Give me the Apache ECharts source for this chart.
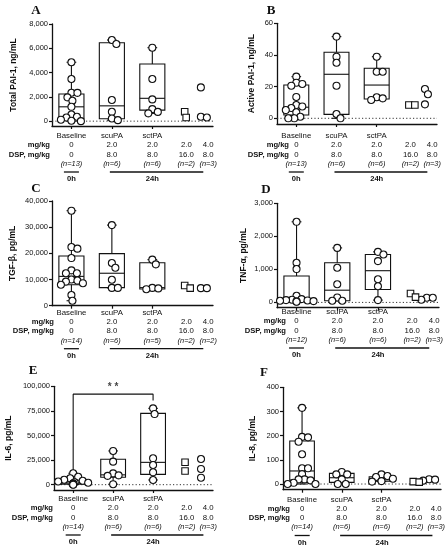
<!DOCTYPE html>
<html>
<head>
<meta charset="utf-8">
<script src="https://cdn.jsdelivr.net/npm/echarts@6/dist/echarts.min.js"></script>
<style>
  html, body { margin: 0; padding: 0; background: #fff; }
  #chart { width: 448px; height: 550px; }
</style>
</head>
<body>
<div id="chart"></div>
<script>
// ---- data ----
const categories = ["Baseline", "scuPA", "sctPA", "sctPA"];
const mgRow = ["0", "2.0", "2.0", "2.0", "4.0"];
const dspRow = ["0", "8.0", "8.0", "16.0", "8.0"];

// points: baseline, scuPA, sctPA, sctPA 2.0/16.0 (squares), sctPA 4.0/8.0 (circles)
const ptsA = [
  [4850, 3470, 2340, 2330, 1960, 1680, 1180, 550, 360, 300, 120, 30, 0],
  [6680, 6350, 1740, 770, 220, 80],
  [6050, 3470, 1790, 990, 760, 640],
  [770, 300],
  [2780, 360, 300]
];
const ptsB = [
  [26.3, 22.5, 21.7, 20.6, 13.5, 8.4, 7.5, 6.5, 5.2, 3.8, 1.0, 0, 0],
  [51.6, 38.9, 35.1, 20.6, 2.7, 0],
  [38.9, 29.4, 29.4, 13.3, 12.6, 11.6],
  [8.4, 8.4],
  [18.5, 15.2, 8.8]
];
const ptsC = [
  [36300, 22400, 21800, 18200, 13500, 12400, 12400, 10000, 9600, 9200, 8600, 8000, 4100, 1900],
  [30800, 16300, 14500, 9900, 6800, 6800],
  [17600, 15800, 6800, 6600, 6300],
  [7700, 6700],
  [6700, 6700]
];
const ptsD = [
  [2440, 1200, 1010, 200, 100, 80, 70, 60, 50, 40, 30, 20],
  [1650, 1050, 550, 150, 50, 50],
  [1530, 1450, 1250, 700, 490, 70],
  [270, 160],
  [140, 140, 80]
];
const ptsE = [
  [11600, 8000, 6500, 5000, 4000, 3200, 2500, 2000, 1500, 1000, 700, 400, 200, 0],
  [34300, 23400, 11500, 9500, 9000, 500],
  [77600, 71800, 26800, 20000, 12600, 4800],
  [22800, 13900],
  [26100, 16000, 7100]
];
const ptsF = [
  [315, 195, 193, 175, 123, 65, 65, 41, 19, 19, 15, 5, 0, 0],
  [50, 40, 40, 19, 0, 0],
  [40, 33, 29, 22, 12, 10],
  [10, 8],
  [20, 18, 14]
];

// box stats [min, q1, median, q3, max] for baseline, scuPA, sctPA
const boxA = [[0, 220, 1180, 2230, 4850], [80, 200, 1260, 6450, 6680], [640, 910, 1880, 4710, 6050]];
const boxB = [[0, 2.1, 7.0, 21.0, 26.3], [0, 2.5, 27.8, 41.7, 51.6], [11.6, 12.2, 21.0, 31.6, 38.9]];
const boxC = [[1900, 8000, 11200, 19000, 36300], [6800, 6900, 12400, 19900, 30800], [6300, 6400, 6900, 16400, 17600]];
const boxD = [[20, 40, 80, 800, 2440], [50, 50, 370, 1200, 1650], [70, 390, 960, 1450, 1530]];
const boxE = [[0, 600, 1750, 5400, 11600], [500, 7500, 10000, 25800, 34300], [4800, 10500, 22700, 72500, 77600]];
const boxF = [[0, 16, 54, 178, 315], [0, 7, 26, 44, 50], [10, 12, 21, 30, 40]];

const nA = [13, 6, 6, 2, 3];
const nB = [13, 6, 6, 2, 3];
const nC = [14, 6, 5, 2, 2];
const nD = [12, 6, 6, 2, 3];
const nE = [14, 6, 6, 2, 3];
const nF = [14, 6, 6, 2, 3];

const ticksA = [0, 2000, 4000, 6000, 8000];
const ticksB = [0, 20, 40, 60];
const ticksC = [0, 10000, 20000, 30000, 40000];
const ticksD = [0, 1000, 2000, 3000];
const ticksE = [0, 25000, 50000, 75000, 100000];
const ticksF = [0, 100, 200, 300, 400];

// significance bracket in E (baseline -> sctPA): left foot, top, right foot
const sigE = [15000, 92000, 85500];

// ---- layout ----
const FONT = "'Liberation Sans', Arial, sans-serif";
const INK = "#111";
const X_MIN = 0.52, X_MAX = 4.5;
const BOX_X = [1, 2, 3];
const LABEL_X = [1, 2, 3, 3.84, 4.38];
const DOT_X = [1, 2, 3, 3.8, 4.2];
const BOX_HALF = 0.31, CAP_HALF = 0.12;
const DOT = 7, DOT_GAP = 5.8;
const LH = 9.3;

const panels = [
  { key: "A", name: "Total PAI-1, ng/mL", pts: ptsA, box: boxA, n: nA, ticks: ticksA, min: -400, max: 8000,
    left: 52, top: 24, width: 161, height: 102, nameGap: 34, head: 50, row1: 136, letter: [36, 11] },
  { key: "B", name: "Active PAI-1, ng/mL", pts: ptsB, box: boxB, n: nB, ticks: ticksB, min: -3.6, max: 60,
    left: 277, top: 23.3, width: 160, height: 100.7, nameGap: 21, head: 289, row1: 136, letter: [271, 11] },
  { key: "C", name: "TGF-\u03b2, pg/mL", pts: ptsC, box: boxC, n: nC, ticks: ticksC, min: 0, max: 40000,
    left: 52, top: 201, width: 161, height: 104.7, nameGap: 35, head: 54, row1: 312.7, letter: [36, 189] },
  { key: "D", name: "TNF-\u03b1, pg/mL", pts: ptsD, box: boxD, n: nD, ticks: ticksD, min: -160, max: 3000,
    left: 277, top: 203.3, width: 162, height: 104.4, nameGap: 29, head: 286, row1: 312, letter: [266, 190] },
  { key: "E", name: "IL-6, pg/mL", pts: ptsE, box: boxE, n: nE, ticks: ticksE, min: -5400, max: 100000,
    left: 54, top: 386.3, width: 159, height: 103.7, nameGap: 41, head: 53, row1: 499, letter: [33, 371] },
  { key: "F", name: "IL-8, pg/mL", pts: ptsF, box: boxF, n: nF, ticks: ticksF, min: -23.5, max: 400,
    left: 283, top: 387.3, width: 159, height: 102.4, nameGap: 26, head: 290, row1: 499.5, letter: [264, 373] }
];

function commas(v) {
  return String(v).replace(/\B(?=(\d{3})+(?!\d))/g, ",");
}

function xPx(p, v) {
  return p.left + (v - X_MIN) / (X_MAX - X_MIN) * p.width;
}

// simple beeswarm: spread points sideways so the circles barely overlap
function swarm(values, cx, p) {
  const sx = p.width / (X_MAX - X_MIN);
  const sy = p.height / (p.max - p.min);
  const placed = [];
  const out = [];
  values.slice().sort((a, b) => b - a).forEach(v => {
    const py = v * sy;
    let dx = 0;
    for (let k = 0; k < 80; k++) {
      const cand = k === 0 ? 0 : (k % 2 ? 1 : -1) * Math.ceil(k / 2) * 0.5;
      if (placed.every(q => (q[0] - cand) ** 2 + (q[1] - py) ** 2 >= DOT_GAP * DOT_GAP)) {
        dx = cand;
        break;
      }
    }
    placed.push([dx, py]);
    out.push([cx + dx / sx, v]);
  });
  return out;
}

function renderBox(params, api) {
  const x = api.value(0);
  const pMin = api.coord([x, api.value(1)]);
  const pQ1 = api.coord([x, api.value(2)]);
  const pMed = api.coord([x, api.value(3)]);
  const pQ3 = api.coord([x, api.value(4)]);
  const pMax = api.coord([x, api.value(5)]);
  const hw = api.size([BOX_HALF, 0])[0];
  const cw = api.size([CAP_HALF, 0])[0];
  const st = { stroke: INK, lineWidth: 1.1, fill: "rgba(0,0,0,0)" };
  const seg = (x1, y1, x2, y2) => ({ type: "line", shape: { x1, y1, x2, y2 }, style: st });
  return {
    type: "group",
    children: [
      { type: "rect", shape: { x: pQ3[0] - hw, y: pQ3[1], width: hw * 2, height: pQ1[1] - pQ3[1] }, style: st },
      seg(pMed[0] - hw, pMed[1], pMed[0] + hw, pMed[1]),
      seg(pMax[0], pMax[1], pQ3[0], pQ3[1]),
      seg(pQ1[0], pQ1[1], pMin[0], pMin[1]),
      seg(pMax[0] - cw, pMax[1], pMax[0] + cw, pMax[1]),
      seg(pMin[0] - cw, pMin[1], pMin[0] + cw, pMin[1])
    ]
  };
}

function colLabel(p, value) {
  if (Math.abs(value - 4) < 1e-6) return "{c|" + categories[3] + "}";
  const j = LABEL_X.findIndex(c => Math.abs(c - value) < 1e-6);
  if (j < 0) return "";
  const head = j < 3 ? categories[j] : "\u00a0";
  return "{c|" + head + "}\n{v|" + mgRow[j] + "}\n{v|" + dspRow[j] + "}\n{n|(n=" + p.n[j] + ")}";
}

const grids = [], xAxes = [], yAxes = [], series = [], graphics = [];
const txt = (x, y, text, font, align) => ({
  type: "text", x, y, silent: true,
  style: { text, font, fill: INK, textAlign: align, align, textVerticalAlign: "middle", verticalAlign: "middle" }
});

panels.forEach((p, i) => {
  const axisY = p.top + p.height;
  grids.push({ left: p.left, top: p.top, width: p.width, height: p.height });

  xAxes.push({
    gridIndex: i, type: "value", min: X_MIN, max: X_MAX,
    axisLine: { show: true, onZero: false, lineStyle: { color: INK, width: 1.3 } },
    axisTick: { show: true, customValues: [1, 2, 3, 4], length: 3, lineStyle: { color: INK, width: 1.2 } },
    axisLabel: {
      customValues: LABEL_X.concat([4]),
      formatter: v => colLabel(p, v),
      margin: p.row1 - axisY - LH / 2,
      color: INK, fontFamily: FONT, fontSize: 7.8, lineHeight: LH,
      rich: {
        c: { fontFamily: FONT, fontSize: 7.8, lineHeight: LH, color: INK },
        v: { fontFamily: FONT, fontSize: 7.8, lineHeight: LH, color: INK },
        n: { fontFamily: FONT, fontSize: 7.4, lineHeight: LH, color: INK, fontStyle: "italic" }
      }
    },
    splitLine: { show: false }
  });

  yAxes.push({
    gridIndex: i, type: "value", min: p.min, max: p.max,
    name: p.name, nameLocation: "middle", nameGap: p.nameGap,
    nameTextStyle: { fontFamily: FONT, fontSize: 8.5, fontWeight: "bold", color: INK },
    axisLine: { show: true, onZero: false, lineStyle: { color: INK, width: 1.3 } },
    axisTick: { show: true, customValues: p.ticks, length: 3, lineStyle: { color: INK, width: 1.2 } },
    axisLabel: { customValues: p.ticks, formatter: v => commas(v), margin: 4, color: INK, fontFamily: FONT, fontSize: 7.5 },
    splitLine: { show: false }
  });

  if (p.min < 0) {
    series.push({
      type: "line", xAxisIndex: i, yAxisIndex: i, silent: true, symbol: "none", z: 1,
      data: [[X_MIN, 0], [X_MAX, 0]],
      lineStyle: { color: "#333", width: 1, type: [1.2, 2.2] }
    });
  }

  series.push({
    type: "custom", xAxisIndex: i, yAxisIndex: i, silent: true, z: 2,
    renderItem: renderBox,
    encode: { x: 0, y: [1, 2, 3, 4, 5] },
    data: p.box.map((b, j) => [BOX_X[j]].concat(b))
  });

  const circles = [];
  [0, 1, 2, 4].forEach(j => circles.push(...swarm(p.pts[j], DOT_X[j], p)));
  series.push({
    type: "scatter", xAxisIndex: i, yAxisIndex: i, silent: true, z: 3,
    symbol: "circle", symbolSize: DOT,
    itemStyle: { color: "#fff", borderColor: INK, borderWidth: 1.1, opacity: 1 },
    data: circles
  });
  series.push({
    type: "scatter", xAxisIndex: i, yAxisIndex: i, silent: true, z: 3,
    symbol: "rect", symbolSize: 6.5,
    itemStyle: { color: "#fff", borderColor: INK, borderWidth: 1.1, opacity: 1 },
    data: swarm(p.pts[3], DOT_X[3], p)
  });

  // panel letter, row headers, time bars
  const hFont = "bold 7.6px " + FONT;
  graphics.push(txt(p.letter[0], p.letter[1], p.key, "bold 13px 'Liberation Serif', 'Times New Roman', serif", "center"));
  graphics.push(txt(p.head, p.row1 + LH, "mg/kg", hFont, "right"));
  graphics.push(txt(p.head, p.row1 + 2 * LH, "DSP, mg/kg", hFont, "right"));
  const barY = p.row1 + 36;
  graphics.push({ type: "line", silent: true, shape: { x1: xPx(p, 1) - 7.5, y1: barY, x2: xPx(p, 1) + 7.5, y2: barY }, style: { stroke: INK, lineWidth: 1.3 } });
  graphics.push({ type: "line", silent: true, shape: { x1: xPx(p, 1.95), y1: barY, x2: xPx(p, 4.26), y2: barY }, style: { stroke: INK, lineWidth: 1.3 } });
  graphics.push(txt(xPx(p, 1), p.row1 + 43, "0h", hFont, "center"));
  graphics.push(txt(xPx(p, 3), p.row1 + 43, "24h", hFont, "center"));
});

// significance bracket in panel E
series.push({
  type: "line", xAxisIndex: 4, yAxisIndex: 4, silent: true, symbol: "none", z: 4,
  data: [[1, sigE[0]], [1, sigE[1]], [3, sigE[1]], [3, sigE[2]]],
  lineStyle: { color: INK, width: 1.1 }
});
series.push({
  type: "scatter", xAxisIndex: 4, yAxisIndex: 4, silent: true, symbolSize: 0, z: 4,
  data: [[2, 99500]],
  label: { show: true, position: "inside", formatter: "* *", color: INK, fontFamily: FONT, fontSize: 10, fontWeight: "bold" }
});

const chart = echarts.init(document.getElementById("chart"), null, { renderer: "canvas" });
chart.setOption({
  backgroundColor: "#fff",
  animation: false,
  grid: grids,
  xAxis: xAxes,
  yAxis: yAxes,
  series: series,
  graphic: graphics
});
</script>
</body>
</html>
